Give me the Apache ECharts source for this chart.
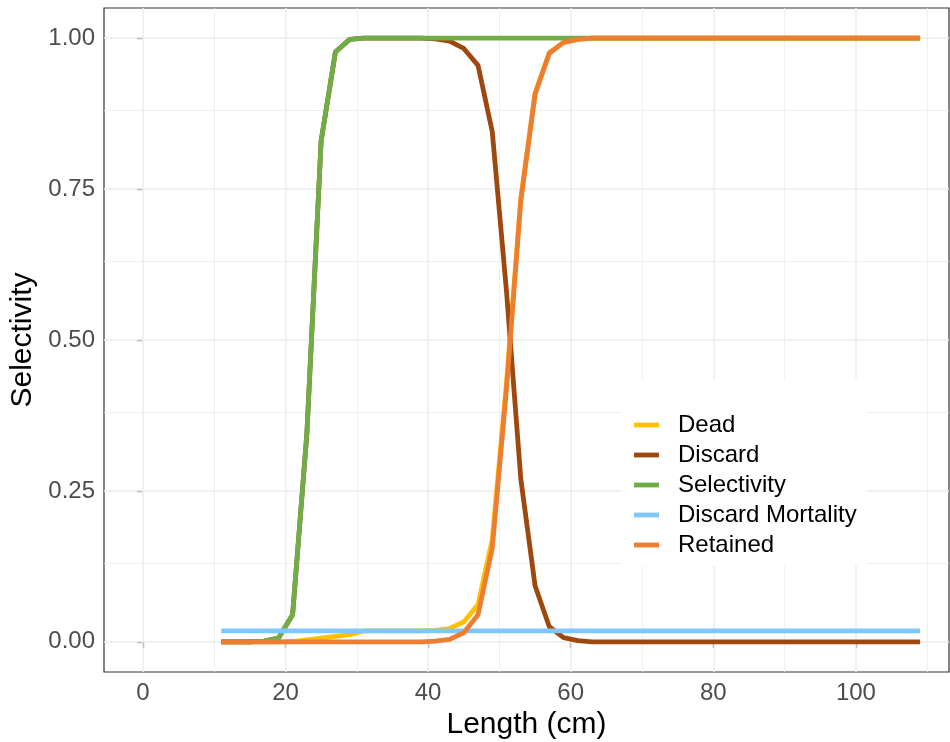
<!DOCTYPE html>
<html>
<head>
<meta charset="utf-8">
<script src="https://cdn.jsdelivr.net/npm/echarts@6/dist/echarts.min.js"></script>
<style>
  html, body { margin: 0; padding: 0; background: #ffffff; }
  #chart { width: 950px; height: 742px; }
</style>
</head>
<body>
<div id="chart"></div>
<script>
// Fish length classes (cm)
const lengths = [11, 13, 15, 17, 19, 21, 23, 25, 27, 29,
                 31, 33, 35, 37, 39, 41, 43, 45, 47, 49,
                 51, 53, 55, 57, 59, 61, 63, 65, 67, 69,
                 71, 73, 75, 77, 79, 81, 83, 85, 87, 89,
                 91, 93, 95, 97, 99, 101, 103, 105, 107, 109];

const dead = [0, 0, 0, 0, 0, 0.0005, 0.003, 0.006, 0.009, 0.012,
              0.018, 0.018, 0.018, 0.018, 0.018, 0.019, 0.022, 0.033, 0.062, 0.17,
              0.43, 0.735, 0.909, 0.976, 0.993, 0.998, 1, 1, 1, 1,
              1, 1, 1, 1, 1, 1, 1, 1, 1, 1,
              1, 1, 1, 1, 1, 1, 1, 1, 1, 1];

const discard = [0, 0, 0, 0.001, 0.006, 0.045, 0.345, 0.83, 0.977, 0.998,
                 1, 1, 1, 1, 1, 0.999, 0.995, 0.983, 0.955, 0.845,
                 0.58, 0.27, 0.093, 0.025, 0.007, 0.002, 0, 0, 0, 0,
                 0, 0, 0, 0, 0, 0, 0, 0, 0, 0,
                 0, 0, 0, 0, 0, 0, 0, 0, 0, 0];

const selectivity = [0, 0, 0, 0.001, 0.006, 0.045, 0.345, 0.83, 0.977, 0.998,
                     1, 1, 1, 1, 1, 1, 1, 1, 1, 1,
                     1, 1, 1, 1, 1, 1, 1, 1, 1, 1,
                     1, 1, 1, 1, 1, 1, 1, 1, 1, 1,
                     1, 1, 1, 1, 1, 1, 1, 1, 1, 1];

const discardMortality = [0.018, 0.018, 0.018, 0.018, 0.018, 0.018, 0.018, 0.018, 0.018, 0.018,
                          0.018, 0.018, 0.018, 0.018, 0.018, 0.018, 0.018, 0.018, 0.018, 0.018,
                          0.018, 0.018, 0.018, 0.018, 0.018, 0.018, 0.018, 0.018, 0.018, 0.018,
                          0.018, 0.018, 0.018, 0.018, 0.018, 0.018, 0.018, 0.018, 0.018, 0.018,
                          0.018, 0.018, 0.018, 0.018, 0.018, 0.018, 0.018, 0.018, 0.018, 0.018];

const retained = [0, 0, 0, 0, 0, 0, 0, 0, 0, 0,
                  0, 0, 0, 0, 0, 0.001, 0.004, 0.015, 0.045, 0.155,
                  0.42, 0.73, 0.907, 0.975, 0.993, 0.998, 1, 1, 1, 1,
                  1, 1, 1, 1, 1, 1, 1, 1, 1, 1,
                  1, 1, 1, 1, 1, 1, 1, 1, 1, 1];

// Axis breaks
const xTicks = [0, 20, 40, 60, 80, 100];
const xMinorTicks = [10, 30, 50, 70, 90, 110];
const yTicks = [0, 0.25, 0.5, 0.75, 1];
const yMinorTicks = [0.125, 0.375, 0.625, 0.875];

const seriesNames = ['Dead', 'Discard', 'Selectivity', 'Discard Mortality', 'Retained'];
const seriesValues = [dead, discard, selectivity, discardMortality, retained];
const seriesColors = ['#FFC000', '#9E480E', '#70AD47', '#80C6F8', '#ED7D31'];

const FONT = 'Liberation Sans, Arial, sans-serif';
const GRID_COLOR = '#EBEBEB';

const minorStyle = { type: 'solid', width: 0.8, color: GRID_COLOR };
const majorStyle = { type: 'solid', width: 1.5, color: GRID_COLOR };

const gridLines = []
  .concat(xMinorTicks.map(v => ({ xAxis: v, lineStyle: minorStyle })))
  .concat(yMinorTicks.map(v => ({ yAxis: v, lineStyle: minorStyle })))
  .concat(xTicks.map(v => ({ xAxis: v, lineStyle: majorStyle })))
  .concat(yTicks.map(v => ({ yAxis: v, lineStyle: majorStyle })));

const dataSeries = seriesNames.map((name, k) => ({
  name: name,
  type: 'line',
  z: 3,
  data: lengths.map((x, i) => [x, seriesValues[k][i]]),
  showSymbol: false,
  symbol: 'none',
  color: seriesColors[k],
  lineStyle: { width: 4.8, color: seriesColors[k], cap: 'butt', join: 'round' },
  emphasis: { disabled: true },
  animation: false
}));

const chart = echarts.init(document.getElementById('chart'), null, { renderer: 'canvas' });

chart.setOption({
  backgroundColor: '#ffffff',
  animation: false,
  grid: {
    left: 104, right: 1, top: 8, bottom: 70,
    containLabel: false,
    outerBoundsMode: 'none',
    show: true,
    backgroundColor: '#ffffff',
    borderColor: '#333333',
    borderWidth: 1.2
  },
  xAxis: {
    type: 'value',
    min: -5.45,
    max: 113.05,
    name: 'Length (cm)',
    nameLocation: 'middle',
    nameGap: 38,
    nameTextStyle: { fontFamily: FONT, fontSize: 30, color: '#000000' },
    axisLine: { show: false },
    axisTick: { show: true, length: 6, customValues: xTicks, lineStyle: { color: '#333333', width: 1.2 } },
    axisLabel: { customValues: xTicks, margin: 9, fontFamily: FONT, fontSize: 24, color: '#4D4D4D' },
    splitLine: { show: false }
  },
  yAxis: {
    type: 'value',
    min: -0.05,
    max: 1.05,
    name: 'Selectivity',
    nameLocation: 'middle',
    nameGap: 49,
    nameTextStyle: { fontFamily: FONT, fontSize: 30, color: '#000000' },
    axisLine: { show: false },
    axisTick: { show: true, length: 6, customValues: yTicks, lineStyle: { color: '#333333', width: 1.2 } },
    axisLabel: {
      customValues: yTicks, margin: 9, fontFamily: FONT, fontSize: 24, color: '#4D4D4D',
      formatter: v => v.toFixed(2)
    },
    splitLine: { show: false }
  },
  legend: {
    data: seriesNames,
    orient: 'vertical',
    left: 622,
    top: 379,
    padding: [31, 10, 6, 12],
    itemGap: 0,
    itemWidth: 25,
    itemHeight: 4.8,
    icon: 'rect',
    backgroundColor: '#ffffff',
    selectedMode: false,
    textStyle: { fontFamily: FONT, fontSize: 24, color: '#000000', lineHeight: 30, padding: [0, 0, 0, 14] }
  },
  series: [{
    name: 'grid-lines',
    type: 'line',
    z: 1,
    data: [],
    silent: true,
    markLine: {
      silent: true,
      z: 1,
      symbol: 'none',
      label: { show: false },
      emphasis: { disabled: true },
      animation: false,
      data: gridLines
    }
  }].concat(dataSeries)
});
</script>
</body>
</html>
